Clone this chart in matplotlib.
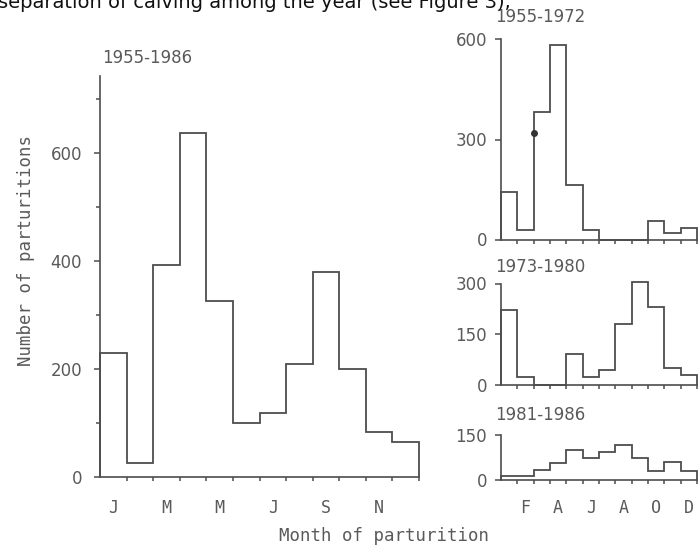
import numpy as np
import matplotlib.pyplot as plt
from matplotlib.ticker import FixedLocator, NullFormatter

# monthly counts
months_all = ['J', '', 'M', '', 'M', '', 'J', '', 'S', '', 'N', '']
months_alt = ['', 'F', '', 'A', '', 'J', '', 'A', '', 'O', '', 'D']
total_1955_1986 = [230, 25, 392, 636, 326, 100, 119, 210, 380, 200, 84, 64]
p_1955_1972 = [143, 30, 384, 582, 163, 28, 0, 0, 0, 56, 20, 35]
p_1973_1980 = [221, 23, 0, 0, 91, 23, 44, 180, 305, 231, 51, 30]
p_1981_1986 = [13, 13, 33, 57, 98, 71, 91, 115, 74, 30, 58, 30]
marker_point = (2, 320)

W, H = 698, 548
INK = '#4d4d4d'
TXT = '#5a5a5a'
MONO = 'DejaVu Sans Mono'
SANS = 'DejaVu Sans'

fig = plt.figure(figsize=(W / 100, H / 100), dpi=100)


def px_axes(left, top, right, bottom):
    return fig.add_axes([left / W, 1 - bottom / H, (right - left) / W, (bottom - top) / H])


def style_axes(ax, ymax, yticks, ylabels_pad, xlabels=None, yminor=None):
    edges = np.arange(13)
    ax.set_xlim(0, 12)
    ax.set_ylim(0, ymax)
    for side in ('top', 'right'):
        ax.spines[side].set_visible(False)
    for side in ('left', 'bottom'):
        ax.spines[side].set_color(INK)
        ax.spines[side].set_linewidth(1.2)
    ax.set_facecolor('none')
    ax.xaxis.set_major_locator(FixedLocator(edges[1:]))
    ax.xaxis.set_major_formatter(NullFormatter())
    ax.tick_params(axis='x', which='major', length=3, width=1.1, color=INK, direction='out')
    if xlabels is not None:
        ax.set_xticks(edges[:-1] + 0.5, minor=True)
        ax.set_xticklabels(xlabels, minor=True, family=MONO, fontsize=12, color=TXT)
        ax.tick_params(axis='x', which='minor', length=0, pad=16)
    ax.set_yticks(yticks)
    ax.set_yticklabels([str(v) for v in yticks], family=SANS, fontsize=12, color=TXT)
    ax.tick_params(axis='y', which='major', length=4, width=1.1, color=INK, pad=ylabels_pad)
    if yminor is not None:
        ax.yaxis.set_minor_locator(FixedLocator(yminor))
        ax.tick_params(axis='y', which='minor', length=3, width=1.1, color=INK)


def draw_hist(ax, values):
    ax.stairs(values, np.arange(13), baseline=0, fill=False,
              color=INK, linewidth=1.3, clip_on=False)


# main panel
main = px_axes(100, 76, 419, 477)
draw_hist(main, total_1955_1986)
style_axes(main, 742, [0, 200, 400, 600], 9, months_all, yminor=[100, 300, 500, 700])
fig.text(102 / W, 1 - 58 / H, '1955-1986', family=SANS, fontsize=12, color=TXT, va='center')

# small panels on the right
ax1 = px_axes(501, 39.5, 697, 239.5)
draw_hist(ax1, p_1955_1972)
ax1.plot(*marker_point, 'o', color='#333333', markersize=4, clip_on=False)
style_axes(ax1, 600, [0, 300, 600], 6)
fig.text(495 / W, 1 - 17 / H, '1955-1972', family=SANS, fontsize=12, color=TXT, va='center')

ax2 = px_axes(501, 283.5, 697, 385)
draw_hist(ax2, p_1973_1980)
style_axes(ax2, 300, [0, 150, 300], 6)
fig.text(495 / W, 1 - 267 / H, '1973-1980', family=SANS, fontsize=12, color=TXT, va='center')

ax3 = px_axes(501, 434.5, 697, 480)
draw_hist(ax3, p_1981_1986)
style_axes(ax3, 150, [0, 150], 6, months_alt)
ax3.tick_params(axis='x', which='minor', pad=14)
fig.text(495 / W, 1 - 415 / H, '1981-1986', family=SANS, fontsize=12, color=TXT, va='center')

# axis titles
fig.text(26 / W, 1 - 251 / H, 'Number of parturitions', rotation=90, family=MONO,
         fontsize=12.5, color=TXT, ha='center', va='center')
fig.text(384 / W, 1 - 536 / H, 'Month of parturition', family=MONO,
         fontsize=12.5, color=TXT, ha='center', va='center')

# clipped line of page text at the very top of the scan
fig.text(-2 / W, 1 - 8 / H, 'separation of calving among the year (see Figure 3),',
         family=SANS, fontsize=14, color='#111111', va='baseline', ha='left')

fig.savefig('out.png', dpi=100)
